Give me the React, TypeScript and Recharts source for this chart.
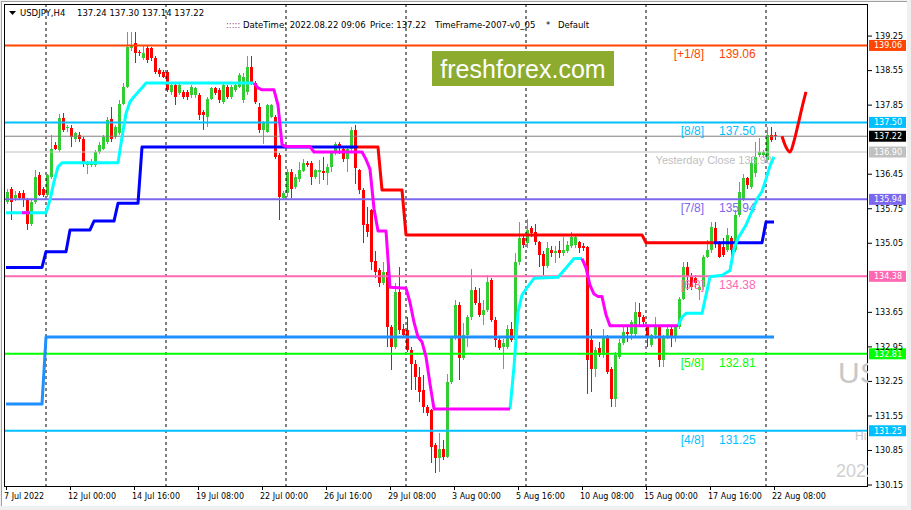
import React from "react";
import { ComposedChart, Bar, Line, XAxis, YAxis, ReferenceLine } from "recharts";

const SMALL = "'DejaVu Sans', sans-serif";
const LABEL = "'Liberation Sans', Arial, sans-serif";

// USDJPY H4 candles, Thu 7 Jul 08:00 .. Mon 22 Aug 08:00: [open, high, low, close]
const ohlc: [number, number, number, number][] = [
  [135.89, 136.16, 135.85, 136.09], [136.16, 136.2, 135.52, 135.89], [135.96, 136.1, 135.9, 136.03],
  [136.06, 136.1, 135.92, 135.96], [136.06, 136.13, 135.79, 135.92], [135.92, 135.96, 135.32, 135.45],
  [135.45, 135.92, 135.4, 135.89], [135.89, 136.53, 135.85, 136.4], [136.43, 136.5, 136.0, 136.03],
  [136.16, 136.2, 135.99, 136.03], [136.03, 136.46, 135.99, 136.43], [136.4, 137.24, 136.36, 136.97],
  [137.04, 137.11, 136.94, 136.97], [136.94, 137.68, 136.9, 137.58], [137.58, 137.7, 137.3, 137.34],
  [137.38, 137.45, 137.3, 137.41], [137.38, 137.45, 137.01, 137.21], [137.17, 137.31, 137.1, 137.28],
  [137.24, 137.3, 137.1, 137.17], [137.17, 137.2, 136.6, 136.67], [136.64, 136.72, 136.46, 136.67],
  [136.64, 136.75, 136.6, 136.7], [136.64, 136.95, 136.6, 136.9], [136.9, 137.1, 136.85, 137.04],
  [136.97, 137.24, 136.94, 137.21], [137.11, 137.6, 137.07, 137.55], [137.56, 137.82, 137.1, 137.17],
  [137.21, 137.45, 137.17, 137.41], [137.28, 137.95, 137.24, 137.88], [137.88, 138.29, 137.85, 138.22],
  [138.22, 139.34, 138.2, 139.03], [139.0, 139.34, 138.95, 139.07], [139.1, 139.34, 138.7, 138.9],
  [138.93, 138.97, 138.85, 138.9], [138.8, 139.07, 138.76, 138.9], [139.0, 139.07, 138.7, 138.76],
  [139.0, 139.03, 138.75, 138.8], [138.8, 138.85, 138.49, 138.53], [138.56, 138.6, 138.43, 138.49],
  [138.53, 138.56, 138.4, 138.43], [138.53, 138.56, 138.12, 138.16], [138.12, 138.29, 138.05, 138.26],
  [138.26, 138.29, 137.85, 138.02], [138.09, 138.3, 138.05, 138.26], [138.12, 138.16, 137.98, 138.02],
  [138.12, 138.16, 137.95, 138.02], [138.05, 138.26, 138.0, 138.22], [138.05, 138.22, 138.0, 138.19],
  [138.05, 138.09, 137.55, 137.65], [137.72, 137.75, 137.34, 137.65], [137.61, 138.02, 137.41, 137.98],
  [137.98, 138.22, 137.95, 138.19], [138.19, 138.22, 138.05, 138.09], [138.16, 138.2, 137.9, 137.95],
  [137.92, 138.3, 137.88, 138.26], [138.22, 138.26, 137.98, 138.02], [138.02, 138.26, 137.98, 138.22],
  [138.16, 138.3, 138.12, 138.26], [138.22, 138.5, 138.19, 138.46], [137.95, 138.5, 137.9, 138.43],
  [138.12, 138.85, 138.05, 138.63], [138.63, 138.85, 138.26, 138.29], [138.29, 138.33, 137.88, 137.92],
  [137.82, 137.9, 137.28, 137.34], [137.34, 137.52, 137.07, 137.48], [137.31, 137.88, 137.28, 137.85],
  [137.61, 137.88, 137.58, 137.85], [137.61, 137.65, 136.75, 136.8], [136.84, 136.87, 135.52, 135.99],
  [135.96, 136.1, 135.92, 136.06], [136.06, 136.55, 135.99, 136.5], [136.5, 136.55, 135.96, 136.16],
  [136.2, 136.45, 136.16, 136.4], [136.36, 136.7, 136.3, 136.53], [136.52, 136.75, 136.5, 136.68],
  [136.68, 136.72, 136.6, 136.63], [136.68, 136.72, 136.23, 136.39], [136.39, 136.56, 136.35, 136.53],
  [136.49, 136.73, 136.26, 136.53], [136.52, 136.8, 136.34, 136.47], [136.48, 136.65, 136.23, 136.6],
  [136.6, 136.9, 136.5, 136.87], [136.87, 137.11, 136.83, 137.06], [137.06, 137.1, 136.85, 136.99],
  [136.97, 137.0, 136.7, 136.75], [136.75, 137.0, 136.5, 136.97], [136.97, 137.41, 136.9, 137.34],
  [137.34, 137.45, 136.26, 136.57], [136.53, 136.56, 136.05, 136.12], [136.13, 136.17, 135.05, 135.42],
  [135.44, 135.78, 135.18, 135.28], [135.72, 135.75, 134.51, 134.68], [134.7, 134.9, 134.34, 134.47],
  [134.51, 134.55, 134.17, 134.24], [134.24, 134.67, 134.2, 134.47], [134.47, 134.57, 132.95, 133.36],
  [133.36, 133.4, 132.48, 132.95], [132.95, 134.24, 132.9, 134.07], [134.07, 134.57, 133.22, 133.29],
  [133.32, 133.42, 133.15, 133.19], [133.29, 133.56, 132.85, 132.89], [132.88, 132.95, 132.07, 132.61],
  [132.61, 132.68, 132.07, 132.33], [132.34, 132.55, 131.84, 132.04], [132.07, 132.38, 131.6, 131.74],
  [131.74, 131.77, 131.55, 131.6], [131.67, 131.7, 130.59, 130.93], [130.96, 131.0, 130.39, 130.69],
  [130.69, 131.2, 130.42, 130.89], [130.89, 131.06, 130.66, 130.72], [130.72, 132.41, 130.69, 132.24],
  [132.24, 133.15, 132.2, 133.12], [133.12, 133.9, 133.08, 133.8], [133.8, 133.85, 132.28, 132.72],
  [132.72, 133.43, 132.68, 133.19], [133.19, 133.6, 132.95, 133.56], [133.56, 134.52, 133.5, 134.1],
  [134.1, 134.17, 133.8, 133.83], [133.83, 134.14, 133.55, 133.6], [133.6, 133.9, 133.39, 133.7],
  [133.7, 134.4, 133.65, 134.27], [134.3, 134.34, 133.45, 133.49], [133.49, 133.55, 132.95, 133.09],
  [133.09, 133.15, 132.88, 132.92], [132.95, 133.1, 132.51, 133.02], [132.95, 133.39, 132.9, 133.32],
  [133.32, 133.46, 133.05, 133.09], [133.09, 134.85, 133.0, 134.68], [134.68, 135.49, 134.6, 135.15],
  [135.15, 135.2, 134.95, 135.02], [135.05, 135.55, 134.95, 135.32], [135.35, 135.4, 135.18, 135.25],
  [135.28, 135.45, 135.02, 135.08], [135.08, 135.1, 134.57, 134.81], [134.84, 134.9, 134.4, 134.58],
  [134.58, 135.08, 134.55, 134.95], [134.92, 135.0, 134.78, 134.86], [134.86, 135.0, 134.65, 134.9],
  [134.92, 135.1, 134.75, 134.86], [134.86, 135.18, 134.8, 134.92], [134.9, 135.1, 134.85, 135.01],
  [135.0, 135.28, 134.95, 135.18], [135.01, 135.2, 134.95, 135.18], [135.08, 135.1, 134.85, 134.95],
  [135.0, 135.05, 134.9, 134.95], [134.98, 135.0, 132.0, 132.68], [133.09, 133.32, 132.04, 132.51],
  [132.51, 132.95, 132.34, 132.88], [132.92, 133.05, 132.75, 132.78], [132.78, 133.32, 132.72, 133.12],
  [133.12, 133.19, 132.41, 132.45], [132.51, 132.55, 131.74, 131.9], [131.9, 132.85, 131.74, 132.78],
  [132.75, 133.1, 132.7, 133.02], [133.02, 133.36, 132.98, 133.26], [133.26, 133.36, 133.05, 133.22],
  [133.22, 133.5, 133.09, 133.46], [133.22, 133.86, 133.15, 133.66], [133.66, 133.83, 133.36, 133.56],
  [133.56, 133.6, 133.4, 133.46], [133.36, 133.4, 132.95, 133.15], [132.98, 133.22, 132.95, 133.19],
  [133.19, 133.56, 133.1, 133.36], [133.36, 133.4, 132.55, 132.68], [132.68, 133.2, 132.55, 133.15],
  [133.15, 133.36, 133.1, 133.32], [133.32, 133.36, 132.95, 133.12], [133.12, 133.4, 133.05, 133.36],
  [133.36, 133.97, 133.32, 133.93], [133.93, 134.68, 133.9, 134.57], [134.57, 134.68, 134.1, 134.37],
  [134.37, 134.45, 134.1, 134.17], [134.34, 134.4, 134.14, 134.24], [134.1, 134.2, 133.9, 134.17],
  [134.17, 134.82, 134.1, 134.78], [134.78, 135.12, 134.75, 134.91], [134.91, 135.49, 134.85, 135.38],
  [135.35, 135.49, 134.95, 135.05], [135.05, 135.1, 134.75, 134.78], [134.98, 135.15, 134.78, 134.81],
  [134.91, 135.35, 134.88, 135.22], [135.15, 135.2, 134.64, 134.91], [134.91, 135.72, 134.88, 135.62],
  [135.62, 136.3, 135.59, 136.09], [135.93, 136.45, 135.9, 136.37], [136.37, 136.4, 136.15, 136.23],
  [136.2, 136.8, 136.15, 136.67], [136.47, 137.11, 136.4, 136.8], [136.84, 137.18, 136.8, 136.91],
  [136.84, 136.95, 136.78, 136.91], [136.74, 137.4, 136.7, 137.24], [137.24, 137.41, 137.1, 137.14],
  [137.24, 137.3, 137.14, 137.22],
];

const SLOTS = 216; // candles plus empty bars on the right
const LABEL_STEP = 16;
const timeLabels = [
  "7 Jul 2022", "12 Jul 00:00", "14 Jul 16:00", "19 Jul 08:00", "22 Jul 00:00", "26 Jul 16:00",
  "29 Jul 08:00", "3 Aug 00:00", "5 Aug 16:00", "10 Aug 08:00", "15 Aug 00:00", "17 Aug 16:00", "22 Aug 08:00",
];
const weekStarts = [10, 40, 70, 100, 130, 160, 190];

const priceTicks = [139.25, 138.55, 137.85, 136.45, 135.75, 135.05, 133.65, 132.95, 132.25, 131.55, 130.85, 130.15];
const yDomain: [number, number] = [130.11, 139.9];

// Murrey math levels
const murrey = [
  { tag: "[+1/8]", value: 139.06, color: "#FF4500" },
  { tag: "[8/8]", value: 137.5, color: "#00BFFF" },
  { tag: "[7/8]", value: 135.94, color: "#7B68EE" },
  { tag: "[6/8]", value: 134.38, color: "#FF69B4" },
  { tag: "[5/8]", value: 132.81, color: "#00FF00" },
  { tag: "[4/8]", value: 131.25, color: "#00BFFF" },
];
const lastPrice = 137.22;
const yesterdayClose = 136.9;

// trailing stop (cyan up / magenta down), vertices as [bar, price]
const trailUp1: [number, number][] = [
  [0, 135.67], [10, 135.67], [11, 135.93], [12, 136.3], [13, 136.6], [14, 136.68], [28, 136.68],
  [29, 137.2], [30, 137.68], [31, 137.92], [32, 138.02], [34, 138.2], [35, 138.3], [62, 138.3],
];
const trailDn0: [number, number][] = [[4, 135.67], [6, 135.67]];
const trailDn1: [number, number][] = [
  [62, 138.3], [63, 138.2], [64, 138.16], [67, 138.16], [68, 137.85], [69, 137.05], [70, 137.01],
  [76, 137.01], [77, 136.9], [89, 136.9], [90, 136.75], [91, 136.55], [92, 135.75], [93, 135.3],
  [95, 135.3], [96, 134.16], [100, 134.14], [101, 133.85], [102, 133.45], [103, 133.15], [104, 133.05],
  [105, 132.75], [106, 132.2], [107, 131.69], [126, 131.69],
];
const trailUp2: [number, number][] = [
  [126, 131.69], [127, 132.55], [128, 133.65], [129, 134.0], [130, 134.12], [132, 134.34],
  [138, 134.36], [140, 134.55], [142, 134.74], [144, 134.74],
];
const trailDn2: [number, number][] = [
  [144, 134.74], [145, 134.55], [146, 134.2], [147, 134.02], [148, 133.97], [149, 133.97],
  [150, 133.6], [151, 133.38], [168, 133.38],
];
const trailUp3: [number, number][] = [
  [168, 133.38], [169, 133.55], [170, 133.63], [174, 133.63], [175, 134.0], [176, 134.37], [179, 134.4],
  [181, 134.5], [182, 134.95], [183, 135.15], [185, 135.42], [187, 135.8], [188, 135.98], [189, 136.1],
  [190, 136.35], [191, 136.62], [192, 136.8],
];

// channel line, blue while rising, red while falling
const channelUp1: [number, number][] = [
  [0, 134.56], [9, 134.56], [10, 134.88], [15, 134.88], [16, 135.32], [21, 135.32], [22, 135.5],
  [27, 135.5], [28, 135.86], [33, 135.86], [34, 137.0], [88, 137.0],
];
const channelDn: [number, number][] = [
  [88, 137.0], [93, 137.0], [94, 136.13], [99, 136.13], [100, 135.22], [159, 135.22], [160, 135.06], [177, 135.06],
];
const channelUp2: [number, number][] = [[177, 135.06], [189, 135.06], [190, 135.48], [192, 135.48]];

const baseLine: [number, number][] = [[0, 131.79], [9, 131.79], [10, 133.15], [192, 133.15]];

// hand-drawn forecast
const forecast: [number, number][] = [
  [194, 137.22], [195, 137.0], [196, 136.9], [197, 137.12], [198, 137.45], [199, 137.8], [200, 138.12],
];

const traces = [
  { key: "baseLine", pts: baseLine, color: "#1E90FF", curve: "linear" },
  { key: "channelUp1", pts: channelUp1, color: "#0000FF", curve: "linear" },
  { key: "channelDn", pts: channelDn, color: "#FF0000", curve: "linear" },
  { key: "channelUp2", pts: channelUp2, color: "#0000FF", curve: "linear" },
  { key: "trailUp1", pts: trailUp1, color: "#00FFFF", curve: "linear" },
  { key: "trailUp2", pts: trailUp2, color: "#00FFFF", curve: "linear" },
  { key: "trailUp3", pts: trailUp3, color: "#00FFFF", curve: "linear" },
  { key: "trailDn0", pts: trailDn0, color: "#FF00FF", curve: "linear" },
  { key: "trailDn1", pts: trailDn1, color: "#FF00FF", curve: "linear" },
  { key: "trailDn2", pts: trailDn2, color: "#FF00FF", curve: "linear" },
  { key: "forecast", pts: forecast, color: "#FF0000", curve: "monotone" },
] as const;

const rows = Array.from({ length: SLOTS }, (_, i) => {
  const row: Record<string, any> = { i };
  const c = ohlc[i];
  if (c) {
    row.open = c[0];
    row.high = c[1];
    row.low = c[2];
    row.close = c[3];
    row.range = [c[2], c[1]];
  }
  return row;
});
for (const t of traces) for (const [i, v] of t.pts) rows[i][t.key] = v;

function Candle(props: any) {
  const { x, y, width, height, payload } = props;
  if (!payload || payload.open == null) return <g />;
  const { open, high, low, close } = payload;
  const color = close >= open ? "#32CD32" : "#FF0000";
  const span = high - low || 1;
  const toY = (v: number) => y + ((high - v) / span) * height;
  const cx = Math.round(x + width / 2);
  const top = toY(Math.max(open, close));
  const bot = toY(Math.min(open, close));
  return (
    <g shapeRendering="crispEdges">
      <rect x={cx} y={y} width={1} height={Math.max(1, height)} fill={color} />
      <rect x={cx - 1} y={top} width={3} height={Math.max(1, bot - top)} fill={color} />
    </g>
  );
}

function TimeTick(props: any) {
  const { x, y, payload } = props;
  const idx = Number(payload.value);
  if (idx % LABEL_STEP !== 0 || idx >= ohlc.length) return <g />;
  return (
    <g>
      <line x1={x + 0.5} x2={x + 0.5} y1={y} y2={y + 3} stroke="#000" />
      <text x={x - 2} y={y + 12} fontSize={8} fontFamily={SMALL} fill="#000">
        {timeLabels[idx / LABEL_STEP]}
      </text>
    </g>
  );
}

// coloured price box on the right scale
function priceBox(right: number, y: number, value: number, bg: string) {
  return (
    <g>
      <rect x={right + 1} y={y - 5.5} width={37} height={11} fill={bg} />
      <text x={right + 6} y={y + 3} fontSize={8} fontFamily={SMALL} fill="#fff">{value.toFixed(2)}</text>
    </g>
  );
}

const murreyLabel = (tag: string, value: number, color: string) => (props: any) => {
  const vb = props.viewBox ?? {};
  const right = (vb.x ?? 0) + (vb.width ?? 0);
  const y = vb.y ?? 0;
  return (
    <g>
      <text x={right - 164} y={y + 13} textAnchor="end" fontSize={12} fontFamily={LABEL} fill={color}>{tag}</text>
      <text x={right - 149} y={y + 13} fontSize={12} fontFamily={LABEL} fill={color}>{value.toFixed(2)}</text>
      {priceBox(right, y, value, color)}
    </g>
  );
};

const boxLabel = (value: number, bg: string, note?: string) => (props: any) => {
  const vb = props.viewBox ?? {};
  const right = (vb.x ?? 0) + (vb.width ?? 0);
  const y = vb.y ?? 0;
  return (
    <g>
      {note && (
        <text x={right - 96} y={y + 11.5} textAnchor="end" fontSize={11} fontFamily={LABEL} fill="#C0C0C0">
          {note} {value.toFixed(2)}
        </text>
      )}
      {priceBox(right, y, value, bg)}
    </g>
  );
};

export default function App() {
  return (
    <div style={{ position: "absolute", left: 0, top: 0, width: 911, height: 510, background: "#F0F0F0" }}>
      <div
        style={{
          position: "absolute", left: 1, top: 1, width: 905, height: 504, background: "#fff",
          borderLeft: "1px solid #A0A0A0", borderTop: "1px solid #A0A0A0",
        }}
      />
      <div style={{ position: "absolute", left: 0, top: 0 }}>
        <ComposedChart width={911} height={510} data={rows} margin={{ top: 4, right: 6, bottom: 5, left: 4 }}>
          <XAxis
            dataKey="i"
            type="category"
            interval={0}
            height={18}
            tickSize={0}
            tickMargin={0}
            axisLine={false}
            tickLine={false}
            tick={<TimeTick />}
          />
          <YAxis
            orientation="right"
            type="number"
            domain={yDomain}
            allowDataOverflow
            ticks={priceTicks}
            interval={0}
            width={37}
            tickSize={4}
            tickMargin={3}
            axisLine={false}
            tickLine={{ stroke: "#000" }}
            tick={{ fontSize: 8, fill: "#000", fontFamily: SMALL }}
            tickFormatter={(v: number) => v.toFixed(2)}
          />
          {weekStarts.map((w) => (
            <ReferenceLine key={w} x={w} stroke="#000" strokeDasharray="3 3" />
          ))}
          <ReferenceLine y={yesterdayClose} stroke="#C0C0C0" label={boxLabel(yesterdayClose, "#C0C0C0", "Yesterday Close")} />
          <ReferenceLine y={lastPrice} stroke="#808080" label={boxLabel(lastPrice, "#000")} />
          {murrey.map((m) => (
            <ReferenceLine key={m.tag} y={m.value} stroke={m.color} strokeWidth={2} label={murreyLabel(m.tag, m.value, m.color)} />
          ))}
          <Bar dataKey="range" barSize={3} shape={(p: any) => <Candle {...p} />} isAnimationActive={false} />
          {traces.map((t) => (
            <Line
              key={t.key}
              dataKey={t.key}
              type={t.curve}
              stroke={t.color}
              strokeWidth={3}
              strokeLinejoin="round"
              dot={false}
              activeDot={false}
              connectNulls
              isAnimationActive={false}
            />
          ))}
        </ComposedChart>
      </div>
      <svg width={911} height={510} style={{ position: "absolute", left: 0, top: 0, pointerEvents: "none" }}>
        <defs>
          <clipPath id="plot">
            <rect x={4} y={4} width={864} height={483} />
          </clipPath>
        </defs>
        <rect x={4.5} y={4.5} width={863} height={482} fill="none" stroke="#000" />
        <polygon points="9,11 16,11 12.5,15" fill="#000" />
        <text x={20} y={16} fontSize={8.5} fontFamily={SMALL} fill="#000">USDJPY,H4</text>
        <text x={77} y={16} fontSize={8.5} fontFamily={SMALL} fill="#000">137.24 137.30 137.14 137.22</text>
        <text x={226} y={28} fontSize={8.5} fontFamily={SMALL} fill="#993399">:::::</text>
        <text x={243} y={28} fontSize={8.5} fontFamily={SMALL} fill="#000">DateTime: 2022.08.22 09:06</text>
        <text x={370} y={28} fontSize={8.5} fontFamily={SMALL} fill="#000">Price: 137.22</text>
        <text x={435} y={28} fontSize={8.5} fontFamily={SMALL} fill="#000">TimeFrame-2007-v0_05</text>
        <text x={546} y={28} fontSize={8.5} fontFamily={SMALL} fill="#000">*</text>
        <text x={558} y={28} fontSize={8.5} fontFamily={SMALL} fill="#000">Default</text>
        <rect x={432} y={51} width={182} height={35} fill="#8DAB2F" />
        <text x={523} y={78} textAnchor="middle" fontSize={25} fontFamily={LABEL} fill="#fff">freshforex.com</text>
        <g clipPath="url(#plot)">
          <text x={838} y={383} fontSize={30} fontFamily={LABEL} fill="#C8C8C8">US</text>
          <text x={855} y={440} fontSize={12} fontFamily={LABEL} fill="#C8C8C8">Hi</text>
          <text x={836} y={477} fontSize={18} fontFamily={LABEL} fill="#D0D0D0">2022</text>
        </g>
      </svg>
    </div>
  );
}
